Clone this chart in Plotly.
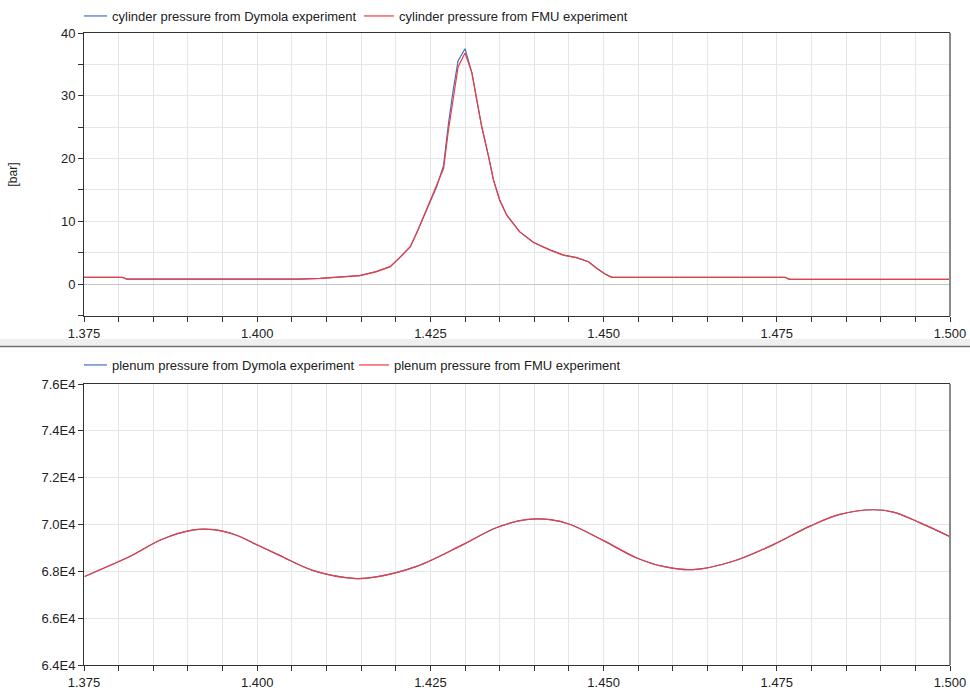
import plotly.graph_objects as go

# ---- Data: cylinder pressure [bar] ----
t_cyl = [1.3750, 1.3805, 1.3812, 1.3900, 1.4000, 1.4060, 1.4091, 1.4110, 1.4148, 1.4172,
         1.4192, 1.4206, 1.4221, 1.4230, 1.4249, 1.4259, 1.4269, 1.4276, 1.4283, 1.4290,
         1.4300, 1.4310, 1.4317, 1.4324, 1.4334, 1.4341, 1.4350, 1.4360, 1.4379, 1.4399,
         1.4423, 1.4442, 1.4461, 1.4478, 1.4490, 1.4502, 1.4512, 1.4600, 1.4762, 1.4768,
         1.5000]
p_cyl_dymola = [1.07, 1.07, 0.78, 0.75, 0.75, 0.78, 0.90, 1.07, 1.33, 1.97,
                2.76, 4.24, 5.95, 8.07, 13.1, 15.5, 18.9, 25.5, 31.0, 35.6,
                37.5, 33.6, 29.3, 25.1, 20.3, 16.6, 13.4, 11.0, 8.3, 6.6,
                5.4, 4.6, 4.2, 3.56, 2.5, 1.6, 1.07, 1.07, 1.07, 0.75,
                0.75]
p_cyl_fmu = [1.07, 1.07, 0.78, 0.75, 0.75, 0.78, 0.90, 1.07, 1.33, 1.97,
             2.76, 4.24, 5.95, 8.07, 13.1, 15.5, 18.4, 24.5, 29.9, 34.6,
             36.8, 33.6, 29.3, 25.1, 20.3, 16.6, 13.4, 11.0, 8.3, 6.6,
             5.4, 4.6, 4.2, 3.56, 2.5, 1.6, 1.07, 1.07, 1.07, 0.75,
             0.75]

# ---- Data: plenum pressure [Pa] ----
t_plen = [1.3751, 1.3792, 1.3821, 1.3862, 1.3908, 1.3937, 1.3970, 1.3999, 1.4033, 1.4081,
          1.4143, 1.4172, 1.4230, 1.4297, 1.4345, 1.4388, 1.4423, 1.4452, 1.4500, 1.4548,
          1.4586, 1.4629, 1.4687, 1.4745, 1.4798, 1.4841, 1.4889, 1.4918, 1.4957, 1.5000]
p_plen_dymola = [67780, 68310, 68710, 69360, 69770, 69780, 69540, 69140, 68670, 68030,
                 67690, 67760, 68210, 69140, 69860, 70210, 70210, 70000, 69310, 68570,
                 68210, 68070, 68430, 69140, 69930, 70430, 70630, 70530, 70070, 69480]
p_plen_fmu = list(p_plen_dymola)

# ---- Axis ticks ----
x_ticks = [1.375 + 0.005 * i for i in range(26)]
x_labels = ["%.3f" % v if i % 5 == 0 else "" for i, v in enumerate(x_ticks)]
y1_ticks = [-5, 0, 5, 10, 15, 20, 25, 30, 35, 40]
y1_labels = ["", "0", "", "10", "", "20", "", "30", "", "40"]
y2_ticks = [64000, 66000, 68000, 70000, 72000, 74000, 76000]
y2_labels = ["6.4E4", "6.6E4", "6.8E4", "7.0E4", "7.2E4", "7.4E4", "7.6E4"]

BLUE = "#3f6fc4"
RED = "#f23a3a"
FONT = "Liberation Sans, Arial, sans-serif"
GRID = "#e6e6e6"
AXIS = "#333333"

fig = go.Figure()
fig.add_trace(go.Scatter(x=t_cyl, y=p_cyl_dymola, mode="lines", name="cylinder pressure from Dymola experiment",
                         line=dict(color=BLUE, width=1.2), xaxis="x", yaxis="y", legend="legend"))
fig.add_trace(go.Scatter(x=t_cyl, y=p_cyl_fmu, mode="lines", name="cylinder pressure from FMU experiment",
                         line=dict(color=RED, width=1.2), xaxis="x", yaxis="y", legend="legend"))
fig.add_trace(go.Scatter(x=t_plen, y=p_plen_dymola, mode="lines", name="plenum pressure from Dymola experiment",
                         line=dict(color=BLUE, width=1.2, shape="spline"), xaxis="x2", yaxis="y2", legend="legend2"))
fig.add_trace(go.Scatter(x=t_plen, y=p_plen_fmu, mode="lines", name="plenum pressure from FMU experiment",
                         line=dict(color=RED, width=1.2, shape="spline"), xaxis="x2", yaxis="y2", legend="legend2"))

H_TOP, H_BOT = 33, 25
plot_h = 690 - H_TOP - H_BOT


def py(pix):
    return (690 - H_BOT - pix) / plot_h


common_x = dict(range=[1.375, 1.5], tickmode="array", tickvals=x_ticks, ticktext=x_labels,
                showgrid=True, gridcolor=GRID, gridwidth=1, zeroline=False,
                showline=True, linecolor=AXIS, linewidth=1, mirror=True,
                ticks="outside", ticklen=5, tickcolor=AXIS, automargin=False,
                tickfont=dict(family=FONT, size=13, color="#222"))
common_y = dict(showgrid=True, gridcolor=GRID, gridwidth=1,
                showline=True, linecolor=AXIS, linewidth=1, automargin=False,
                ticks="outside", ticklen=5, tickcolor=AXIS, tickmode="array",
                tickfont=dict(family=FONT, size=13, color="#222"))

LEG_FONT = dict(family=FONT, size=13, color="#222")

fig.update_layout(
    width=970, height=690,
    margin=dict(l=84, r=20, t=H_TOP, b=H_BOT, autoexpand=False),
    paper_bgcolor="white", plot_bgcolor="white",
    font=dict(family=FONT, size=13, color="#222"),
    xaxis=dict(domain=[0, 1], anchor="y", **common_x),
    yaxis=dict(domain=[py(316), 1], anchor="x", range=[-5.1, 40], tickvals=y1_ticks, ticktext=y1_labels,
               zeroline=True, zerolinecolor="#c4c4c4", zerolinewidth=1,
               title=dict(text="[bar]", standoff=40, font=dict(family=FONT, size=12, color="#222")),
               **common_y),
    xaxis2=dict(domain=[0, 1], anchor="y2", **common_x),
    yaxis2=dict(domain=[0, py(384)], anchor="x2", range=[64000, 76000], tickvals=y2_ticks, ticktext=y2_labels,
                zeroline=False, **common_y),
    legend=dict(orientation="h", x=0.0, y=py(16), xanchor="left", yanchor="middle",
                font=LEG_FONT, bgcolor="rgba(0,0,0,0)", indentation=-12,
                entrywidth=254, entrywidthmode="pixels",
                itemwidth=30, tracegroupgap=0),
    legend2=dict(orientation="h", x=0.0, y=py(365), xanchor="left", yanchor="middle",
                 font=LEG_FONT, bgcolor="rgba(0,0,0,0)", indentation=-12,
                 entrywidth=249, entrywidthmode="pixels",
                 itemwidth=30, tracegroupgap=0),
    showlegend=True,
)

# separator band between the two panels
x0p = -84 / 866
x1p = (970 - 84) / 866
fig.add_shape(type="rect", xref="paper", yref="paper", x0=x0p, x1=x1p, y0=py(346), y1=py(339),
              fillcolor="#efefef", line=dict(width=0), layer="below")
fig.add_shape(type="line", xref="paper", yref="paper", x0=x0p, x1=x1p, y0=py(346.5), y1=py(346.5),
              line=dict(color="#707070", width=1.5))
# right borders (grey)
for xr, yr in (("x domain", "y domain"), ("x2 domain", "y2 domain")):
    fig.add_shape(type="line", xref=xr, yref=yr, x0=1, x1=1, y0=0, y1=1,
                  line=dict(color="#8a8a8a", width=2))

fig.write_html("out.html")
